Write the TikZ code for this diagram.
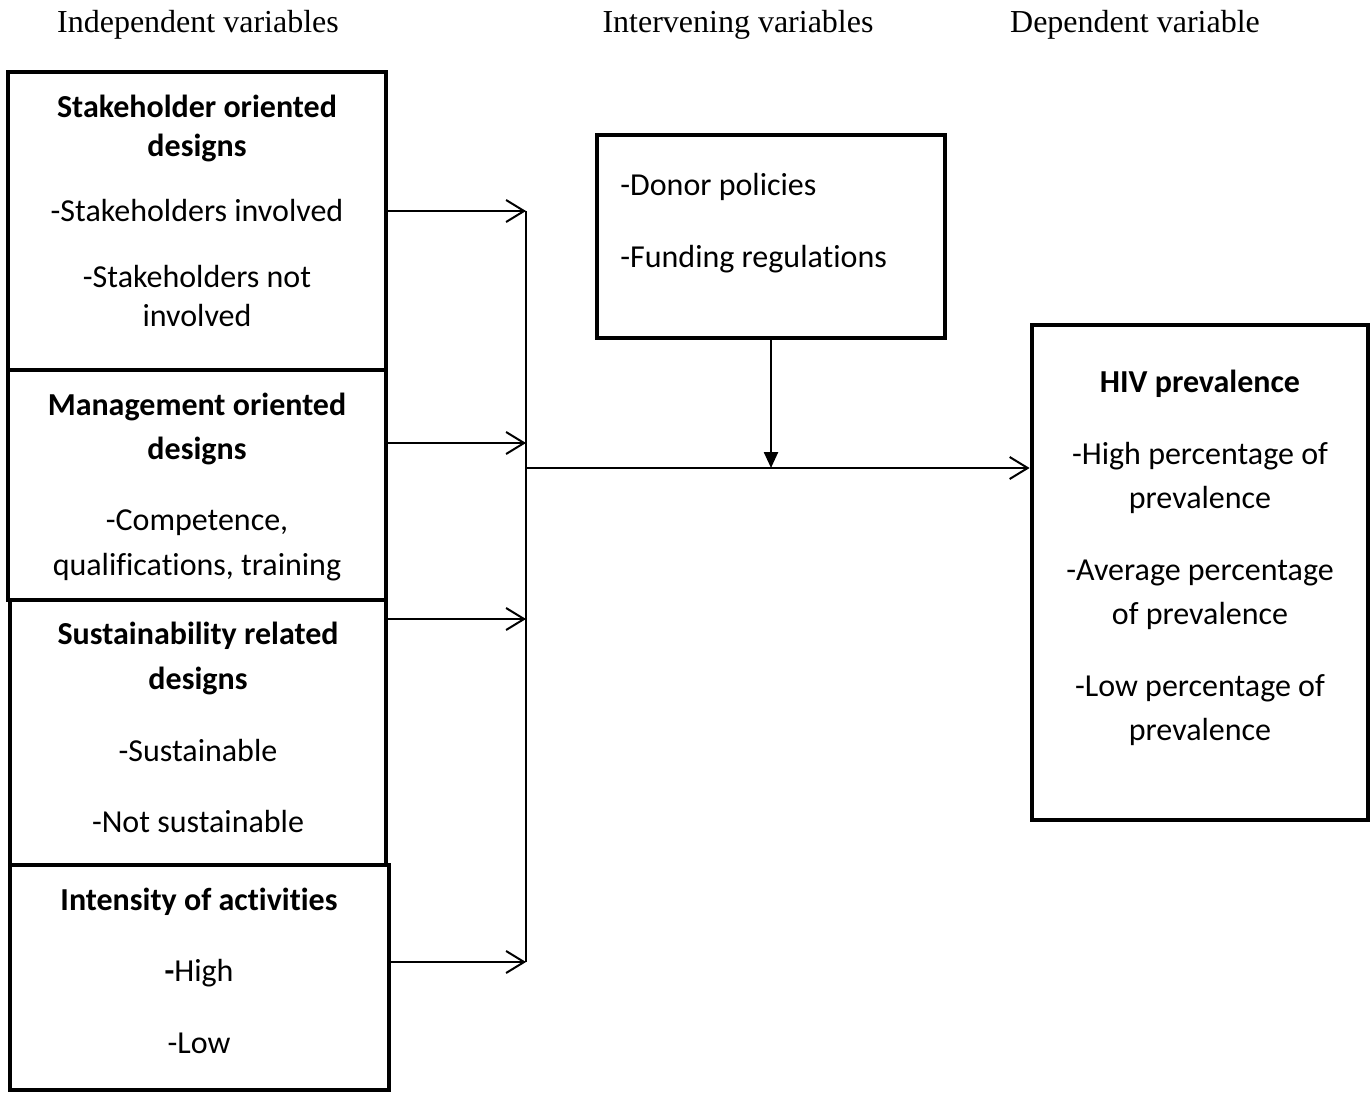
\documentclass[tikz,border=0pt]{standalone}
\usepackage{fontspec}
\setmainfont{Carlito}[RawFeature={-liga;-clig;-dlig;-calt}]
\newfontfamily\headfont{Liberation Serif}
\usetikzlibrary{arrows.meta}
\tikzset{
	varbox/.style={draw,line width=2.4pt,inner sep=0pt},
	boxline/.style={anchor=base,inner sep=0pt,font=\fontsize{16}{19.5}\selectfont},
	headline/.style={anchor=base,inner sep=0pt,font=\headfont\fontsize{16}{19}\selectfont},
	link/.style={line width=1pt,-{Straight Barb[length=9pt,width=11pt]}},
}
\begin{document}
\begin{tikzpicture}[x=0.5pt,y=-0.5pt]
	\useasboundingbox (0,0) rectangle (1372,1093);
	% column headings
	\node[headline] (hind) at (198,32) {Independent variables};
	\node[headline] (hint) at (738,32) {Intervening variables};
	\node[headline] (hdep) at (1135,32) {Dependent variable};
	% boxes
	\node[varbox,minimum width=189pt,minimum height=149pt] (sod) at (197,221) {};
	\node[varbox,minimum width=189pt,minimum height=115pt] (mod) at (197,485) {};
	\node[varbox,minimum width=188pt,minimum height=132.5pt] (srd) at (198,732.5) {};
	\node[varbox,minimum width=189.5pt,minimum height=112.5pt] (ioa) at (199.5,977.5) {};
	\node[varbox,minimum width=174pt,minimum height=101.5pt] (ivb) at (771,236.5) {};
	\node[varbox,minimum width=168pt,minimum height=247.5pt] (hiv) at (1200,572.5) {};
	% box texts
	\foreach \y/\t [count=\i] in {107/\textbf{Stakeholder oriented},146/\textbf{designs},
		211/-Stakeholders involved,277/-Stakeholders not,316/involved}
	\node[boxline] (sod-\i) at (197,\y+10) {\t};
	\foreach \y/\t [count=\i] in {405/\textbf{Management oriented},449/\textbf{designs},
		520/{-Competence,},565/{qualifications, training}}
	\node[boxline] (mod-\i) at (197,\y+10) {\t};
	\foreach \y/\t [count=\i] in {634/\textbf{Sustainability related},679/\textbf{designs},
		751/-Sustainable,822/-Not sustainable}
	\node[boxline] (srd-\i) at (198,\y+10) {\t};
	\foreach \y/\t [count=\i] in {900/\textbf{Intensity of activities},971/\textbf{-}High,1043/-Low}
	\node[boxline] (ioa-\i) at (199,\y+10) {\t};
	\foreach \y/\t [count=\i] in {185/-Donor policies,257/-Funding regulations}
	\node[boxline,anchor=base west] (ivb-\i) at (620,\y+10) {\t};
	\foreach \y/\t [count=\i] in {382/\textbf{HIV prevalence},454/-High percentage of,498/prevalence,
		570/-Average percentage,614/of prevalence,686/-Low percentage of,730/prevalence}
	\node[boxline] (hiv-\i) at (1200,\y+10) {\t};
	% connectors
	\coordinate (j1) at (526,211);
	\coordinate (j2) at (526,443);
	\coordinate (j3) at (526,619);
	\coordinate (j4) at (526,962);
	\coordinate (jm) at (526,468);
	\draw[link] (sod.east |- j1) -- (j1);
	\draw[link] (mod.east |- j2) -- (j2);
	\draw[link] (srd.east |- j3) -- (j3);
	\draw[link] (ioa.east |- j4) -- (j4);
	\draw[line width=0.75pt] (j1) -- (j4);
	\draw[link] (jm) -- (hiv.west |- jm);
	\draw[line width=1.2pt,-{Triangle[length=8pt,width=7pt]}] (ivb.south) -- (ivb.south |- jm);
\end{tikzpicture}
\end{document}
